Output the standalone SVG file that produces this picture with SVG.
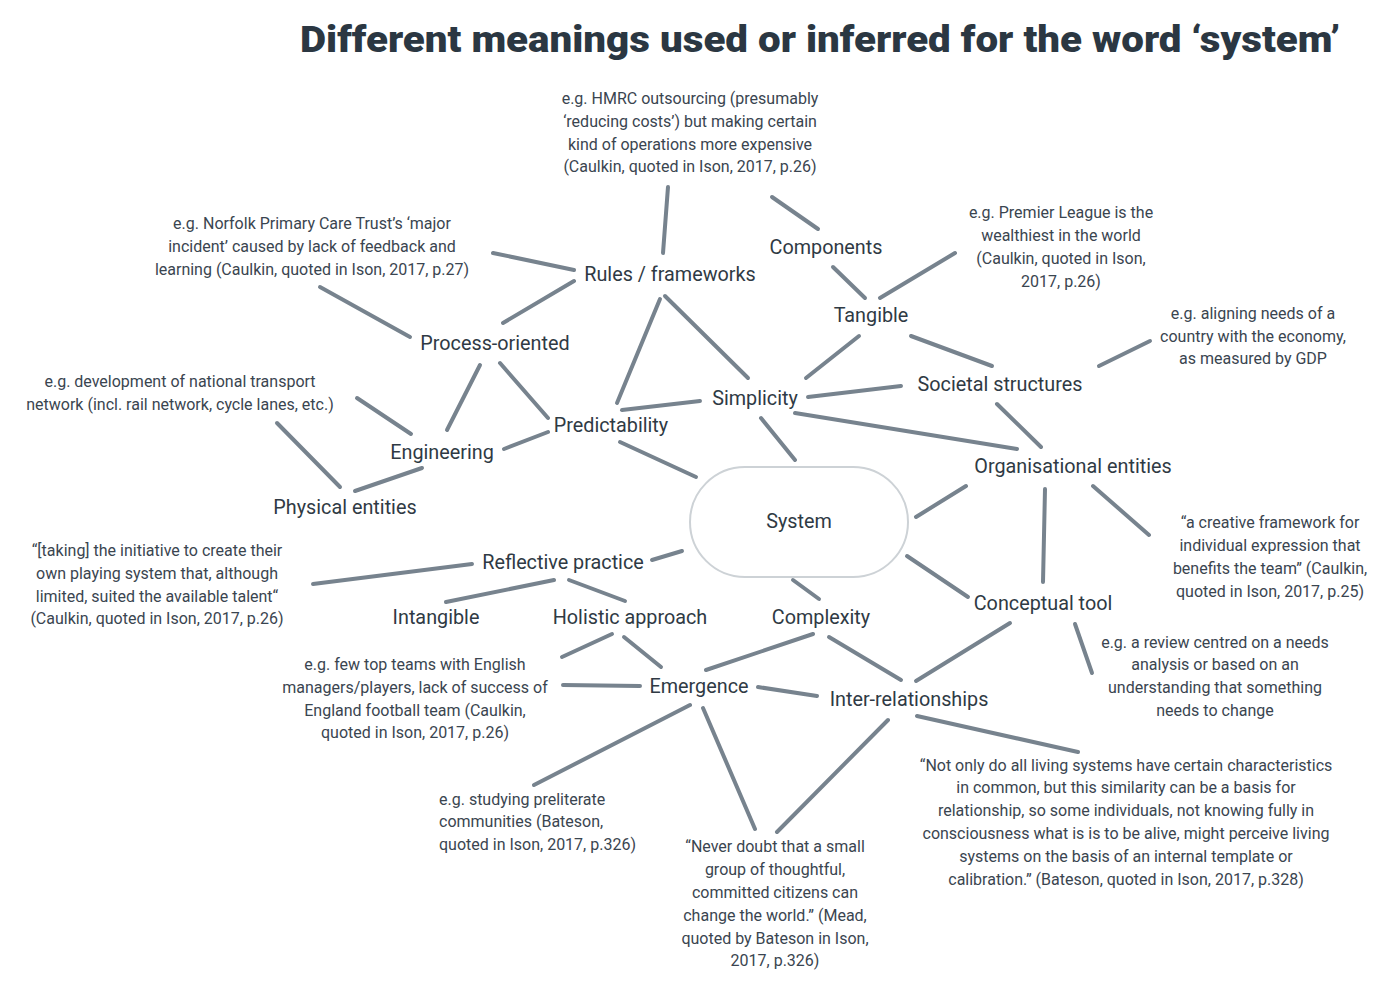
<svg xmlns="http://www.w3.org/2000/svg" width="1400" height="984" viewBox="0 0 1400 984">
<style>
  .bg{fill:#ffffff}
  .title{font-family:Roboto,"Liberation Sans",sans-serif;font-weight:900;font-size:37px;fill:#2b3742}
  .lbl{font-family:Roboto,"Liberation Sans",sans-serif;font-size:19.8px;fill:#2f3a44;text-anchor:middle}
  .note{font-family:Roboto,"Liberation Sans",sans-serif;font-size:16px;fill:#3a4550;text-anchor:middle}
  .left{text-anchor:start}
  .edges line{stroke:#77838e;stroke-width:4;stroke-linecap:round}
  .cap{fill:#ffffff;stroke:#cdd2d6;stroke-width:2}
</style>
<rect class="bg" x="0" y="0" width="1400" height="984"/>
<text class="title" x="300" y="52" textLength="1040" lengthAdjust="spacingAndGlyphs">Different meanings used or inferred for the word ‘system’</text>

<g class="edges" id="connectors">
  <line x1="668" y1="187" x2="663" y2="253"/>
  <line x1="772" y1="197" x2="818" y2="229"/>
  <line x1="493" y1="253" x2="574" y2="270"/>
  <line x1="574" y1="281" x2="503" y2="323"/>
  <line x1="320" y1="287" x2="410" y2="337"/>
  <line x1="660" y1="299" x2="617" y2="403"/>
  <line x1="665" y1="296" x2="748" y2="378"/>
  <line x1="833" y1="267" x2="865" y2="298"/>
  <line x1="955" y1="253" x2="880" y2="298"/>
  <line x1="859" y1="336" x2="806" y2="378"/>
  <line x1="911" y1="336" x2="992" y2="366"/>
  <line x1="1150" y1="341" x2="1099" y2="366"/>
  <line x1="700" y1="401" x2="622" y2="410"/>
  <line x1="808" y1="397" x2="901" y2="386"/>
  <line x1="795" y1="413" x2="1017" y2="449"/>
  <line x1="761" y1="418" x2="795" y2="460"/>
  <line x1="997" y1="404" x2="1041" y2="447"/>
  <line x1="480" y1="365" x2="447" y2="430"/>
  <line x1="500" y1="363" x2="548" y2="418"/>
  <line x1="357" y1="398" x2="411" y2="434"/>
  <line x1="548" y1="432" x2="504" y2="449"/>
  <line x1="620" y1="442" x2="696" y2="477"/>
  <line x1="277" y1="423" x2="340" y2="487"/>
  <line x1="422" y1="468" x2="355" y2="491"/>
  <line x1="966" y1="486" x2="916" y2="517"/>
  <line x1="1045" y1="489" x2="1043" y2="582"/>
  <line x1="1093" y1="486" x2="1149" y2="535"/>
  <line x1="907" y1="556" x2="968" y2="597"/>
  <line x1="682" y1="551" x2="652" y2="560"/>
  <line x1="313" y1="584" x2="472" y2="564"/>
  <line x1="554" y1="580" x2="446" y2="602"/>
  <line x1="569" y1="580" x2="625" y2="601"/>
  <line x1="793" y1="580" x2="819" y2="599"/>
  <line x1="612" y1="634" x2="562" y2="657"/>
  <line x1="624" y1="637" x2="661" y2="667"/>
  <line x1="813" y1="634" x2="706" y2="670"/>
  <line x1="829" y1="637" x2="901" y2="680"/>
  <line x1="1010" y1="623" x2="916" y2="681"/>
  <line x1="1075" y1="624" x2="1092" y2="673"/>
  <line x1="563" y1="685" x2="640" y2="686"/>
  <line x1="758" y1="687" x2="817" y2="696"/>
  <line x1="690" y1="705" x2="534" y2="785"/>
  <line x1="703" y1="708" x2="755" y2="829"/>
  <line x1="888" y1="720" x2="777" y2="832"/>
  <line x1="917" y1="716" x2="1078" y2="752"/>
</g>

<g id="system"><rect class="cap" x="690" y="467" width="218" height="110" rx="55" ry="55"/><text class="lbl" x="799" y="528">System</text></g>
<g id="components"><text class="lbl" x="826" y="254">Components</text></g>
<g id="rules"><text class="lbl" x="670" y="281">Rules / frameworks</text></g>
<g id="tangible"><text class="lbl" x="871" y="322">Tangible</text></g>
<g id="process"><text class="lbl" x="495" y="350">Process-oriented</text></g>
<g id="societal"><text class="lbl" x="1000" y="391">Societal structures</text></g>
<g id="simplicity"><text class="lbl" x="755" y="405">Simplicity</text></g>
<g id="predictability"><text class="lbl" x="611" y="432">Predictability</text></g>
<g id="engineering"><text class="lbl" x="442" y="459">Engineering</text></g>
<g id="organisational"><text class="lbl" x="1073" y="473">Organisational entities</text></g>
<g id="physical"><text class="lbl" x="345" y="514">Physical entities</text></g>
<g id="reflective"><text class="lbl" x="563" y="569">Reflective practice</text></g>
<g id="intangible"><text class="lbl" x="436" y="624">Intangible</text></g>
<g id="holistic"><text class="lbl" x="630" y="624">Holistic approach</text></g>
<g id="complexity"><text class="lbl" x="821" y="624">Complexity</text></g>
<g id="conceptual"><text class="lbl" x="1043" y="610">Conceptual tool</text></g>
<g id="emergence"><text class="lbl" x="699" y="693">Emergence</text></g>
<g id="inter"><text class="lbl" x="909" y="706">Inter-relationships</text></g>

<g id="note-hmrc"><text class="note" x="690" y="104">e.g. HMRC outsourcing (presumably</text><text class="note" x="690" y="127">‘reducing costs’) but making certain</text><text class="note" x="690" y="150">kind of operations more expensive</text><text class="note" x="690" y="172">(Caulkin, quoted in Ison, 2017, p.26)</text></g>
<g id="note-norfolk"><text class="note" x="312" y="229">e.g. Norfolk Primary Care Trust’s ‘major</text><text class="note" x="312" y="252">incident’ caused by lack of feedback and</text><text class="note" x="312" y="275">learning (Caulkin, quoted in Ison, 2017, p.27)</text></g>
<g id="note-premier"><text class="note" x="1061" y="218">e.g. Premier League is the</text><text class="note" x="1061" y="241">wealthiest in the world</text><text class="note" x="1061" y="264">(Caulkin, quoted in Ison,</text><text class="note" x="1061" y="287">2017, p.26)</text></g>
<g id="note-gdp"><text class="note" x="1253" y="319">e.g. aligning needs of a</text><text class="note" x="1253" y="342">country with the economy,</text><text class="note" x="1253" y="364">as measured by GDP</text></g>
<g id="note-transport"><text class="note" x="180" y="387">e.g. development of national transport</text><text class="note" x="180" y="410">network (incl. rail network, cycle lanes, etc.)</text></g>
<g id="note-taking"><text class="note" x="157" y="556">“[taking] the initiative to create their</text><text class="note" x="157" y="579">own playing system that, although</text><text class="note" x="157" y="602">limited, suited the available talent“</text><text class="note" x="157" y="624">(Caulkin, quoted in Ison, 2017, p.26)</text></g>
<g id="note-creative"><text class="note" x="1270" y="528">“a creative framework for</text><text class="note" x="1270" y="551">individual expression that</text><text class="note" x="1270" y="574">benefits the team” (Caulkin,</text><text class="note" x="1270" y="597">quoted in Ison, 2017, p.25)</text></g>
<g id="note-review"><text class="note" x="1215" y="648">e.g. a review centred on a needs</text><text class="note" x="1215" y="670">analysis or based on an</text><text class="note" x="1215" y="693">understanding that something</text><text class="note" x="1215" y="716">needs to change</text></g>
<g id="note-few"><text class="note" x="415" y="670">e.g. few top teams with English</text><text class="note" x="415" y="693">managers/players, lack of success of</text><text class="note" x="415" y="716">England football team (Caulkin,</text><text class="note" x="415" y="738">quoted in Ison, 2017, p.26)</text></g>
<g id="note-preliterate"><text class="note left" x="439" y="805">e.g. studying preliterate</text><text class="note left" x="439" y="827">communities (Bateson,</text><text class="note left" x="439" y="850">quoted in Ison, 2017, p.326)</text></g>
<g id="note-never"><text class="note" x="775" y="852">“Never doubt that a small</text><text class="note" x="775" y="875">group of thoughtful,</text><text class="note" x="775" y="898">committed citizens can</text><text class="note" x="775" y="921">change the world.” (Mead,</text><text class="note" x="775" y="944">quoted by Bateson in Ison,</text><text class="note" x="775" y="966">2017, p.326)</text></g>
<g id="note-notonly"><text class="note" x="1126" y="771">“Not only do all living systems have certain characteristics</text><text class="note" x="1126" y="793">in common, but this similarity can be a basis for</text><text class="note" x="1126" y="816">relationship, so some individuals, not knowing fully in</text><text class="note" x="1126" y="839">consciousness what is is to be alive, might perceive living</text><text class="note" x="1126" y="862">systems on the basis of an internal template or</text><text class="note" x="1126" y="885">calibration.” (Bateson, quoted in Ison, 2017, p.328)</text></g>
</svg>
